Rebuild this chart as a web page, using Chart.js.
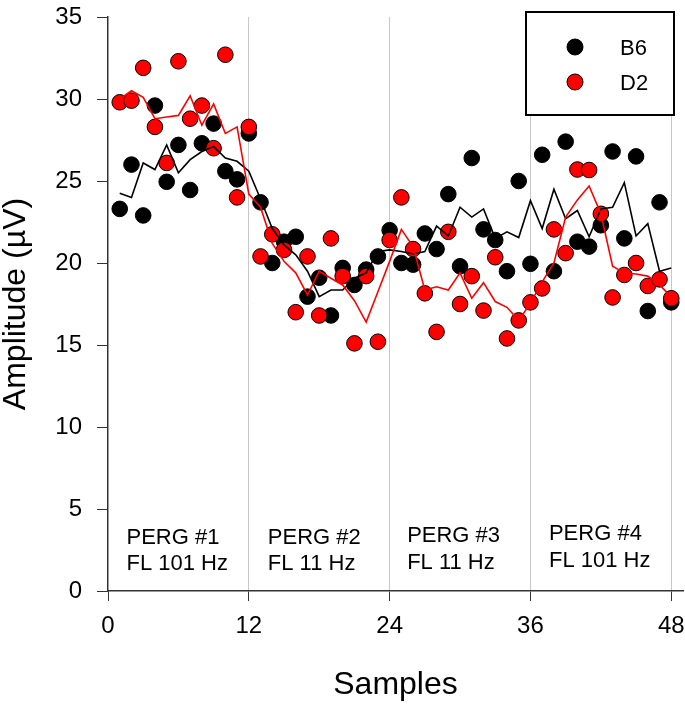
<!DOCTYPE html>
<html>
<head>
<meta charset="utf-8">
<script src="https://cdn.jsdelivr.net/npm/chart.js@4"></script>
<style>
  html, body { margin: 0; padding: 0; background: #ffffff; }
  canvas { display: block; }
</style>
</head>
<body>
<canvas id="c" width="685" height="705"></canvas>
<script>
// ---- data ----
const samples = [1,2,3,4,5,6,7,8,9,10,11,12,13,14,15,16,17,18,19,20,21,22,23,24,
                 25,26,27,28,29,30,31,32,33,34,35,36,37,38,39,40,41,42,43,44,45,46,47,48];

const b6Points = [23.3,26.0,22.9,29.6,24.95,27.2,24.45,27.3,28.5,25.6,25.1,27.9,
                  23.7,20.0,21.3,21.6,17.95,19.1,16.8,19.7,18.66,19.6,20.4,22.0,
                  20.0,19.9,21.8,20.85,24.2,19.8,26.4,22.05,21.4,19.5,25.0,19.95,
                  26.6,19.5,27.4,21.3,21.0,22.3,26.8,21.5,26.5,17.07,23.7,17.6];

const d2Points = [29.8,29.9,31.9,28.3,26.1,32.3,28.8,29.6,27.0,32.7,24.0,28.3,
                  20.4,21.75,20.8,17.0,20.4,16.8,21.5,19.2,15.1,19.2,15.2,21.4,
                  24.0,20.85,18.15,15.8,21.9,17.5,19.2,17.1,20.35,15.4,16.5,17.6,
                  18.45,22.05,20.6,25.7,25.67,23.0,17.9,19.27,20.0,18.6,19.0,17.85];

const b6Line = [24.25,24.0,26.1,25.7,27.2,25.5,26.3,26.8,27.1,26.4,26.2,25.6,
                23.9,22.1,21.1,20.5,19.5,17.95,18.35,18.35,19.07,19.4,20.7,20.8,
                20.7,20.55,20.7,22.25,21.65,23.4,22.8,23.3,21.5,21.9,21.55,23.8,
                22.1,24.5,22.7,23.2,21.6,23.3,23.4,24.9,21.65,22.4,19.5,19.7];

const d2Line = [30.0,30.5,30.1,28.8,28.9,29.0,30.2,28.4,29.7,27.9,28.3,24.2,
                23.4,21.2,20.1,19.4,18.05,19.5,19.07,18.66,17.7,16.4,18.25,20.1,
                22.05,21.0,18.35,18.55,18.35,19.4,17.85,18.8,17.65,17.3,16.5,17.55,
                18.85,20.0,22.8,23.85,24.7,23.0,19.8,19.4,19.33,19.2,18.66,17.95];

const xTicks = [0, 12, 24, 36, 48];
const yTicks = [0, 5, 10, 15, 20, 25, 30, 35];
const seriesNames = ['B6', 'D2'];
const segmentStarts = [0, 12, 24, 36];
const segmentLabels = [['PERG #1', 'FL 101 Hz'], ['PERG #2', 'FL 11 Hz'],
                       ['PERG #3', 'FL 11 Hz'], ['PERG #4', 'FL 101 Hz']];
const xTitle = 'Samples';
const yTitle = 'Amplitude (\u00B5V)';

// ---- build ----
const toXY = arr => samples.map((s, i) => ({ x: s, y: arr[i] }));
const FONT = '"Liberation Sans", Arial, Helvetica, sans-serif';

const overlay = {
  id: 'overlay',
  afterDraw(chart) {
    const ctx = chart.ctx;
    const ca = chart.chartArea;
    const xs = chart.scales.x;
    ctx.save();
    ctx.fillStyle = '#000';

    // segment annotations
    ctx.font = '22px ' + FONT;
    ctx.textAlign = 'left';
    ctx.textBaseline = 'alphabetic';
    const offs = [18.5, 19, 17.5, 18.5];
    const base1 = [544, 544, 542, 540];
    const base2 = [570, 570, 569, 567];
    segmentStarts.forEach((s, k) => {
      const x0 = xs.getPixelForValue(s) + offs[k];
      ctx.fillText(segmentLabels[k][0], x0, base1[k]);
      ctx.fillText(segmentLabels[k][1], x0, base2[k]);
    });

    // axis titles
    ctx.font = '32px ' + FONT;
    ctx.textAlign = 'center';
    ctx.textBaseline = 'alphabetic';
    ctx.fillText(xTitle, (ca.left + ca.right) / 2, 694);
    ctx.save();
    ctx.translate(25, (ca.top + ca.bottom) / 2);
    ctx.rotate(-Math.PI / 2);
    ctx.fillText(yTitle, 0, 0);
    ctx.restore();

    // legend box
    const bx = ca.right - 157, by = ca.top - 5, bw = 148, bh = 103;
    ctx.fillStyle = '#fff';
    ctx.fillRect(bx, by, bw, bh);
    ctx.lineWidth = 2;
    ctx.strokeStyle = '#000';
    ctx.strokeRect(bx, by, bw, bh);
    const colors = ['#000000', '#ff0000'];
    const rows = [by + 35, by + 70];
    ctx.font = '22px ' + FONT;
    ctx.textAlign = 'left';
    ctx.textBaseline = 'alphabetic';
    seriesNames.forEach((name, k) => {
      ctx.beginPath();
      ctx.arc(bx + 49, rows[k], 8, 0, Math.PI * 2);
      ctx.fillStyle = colors[k];
      ctx.fill();
      ctx.lineWidth = 1;
      ctx.strokeStyle = '#000';
      ctx.stroke();
      ctx.fillStyle = '#000';
      ctx.fillText(name, bx + 94, rows[k] + 8);
    });
    ctx.restore();
  }
};

new Chart(document.getElementById('c'), {
  type: 'line',
  data: {
    datasets: [
      { label: 'D2 line', data: toXY(d2Line), borderColor: '#ff0000', borderWidth: 1.6,
        pointRadius: 0, fill: false, tension: 0 },
      { label: 'B6 line', data: toXY(b6Line), borderColor: '#000000', borderWidth: 1.6,
        pointRadius: 0, fill: false, tension: 0 },
      { label: seriesNames[1], data: toXY(d2Points), showLine: false, pointRadius: 7.8,
        pointBackgroundColor: '#ff0000', pointBorderColor: '#000', pointBorderWidth: 1 },
      { label: seriesNames[0], data: toXY(b6Points), showLine: false, pointRadius: 7.8,
        pointBackgroundColor: '#000000', pointBorderColor: '#000', pointBorderWidth: 1 }
    ]
  },
  options: {
    responsive: false,
    devicePixelRatio: 1,
    animation: false,
    layout: { autoPadding: false, padding: { top: 17, right: 2, left: 0, bottom: 0 } },
    plugins: { legend: { display: false }, tooltip: { enabled: false } },
    scales: {
      x: {
        type: 'linear', min: 0, max: 49,
        afterBuildTicks: s => { s.ticks = xTicks.map(v => ({ value: v })); },
        afterFit: s => { s.height = 114; s.paddingLeft = 0; s.paddingRight = 0; },
        ticks: { font: { size: 24, family: FONT }, color: '#000', padding: 11, maxRotation: 0 },
        grid: {
          color: c => (c.tick && c.tick.value === 0) ? 'rgba(0,0,0,0)' : '#c8c8c8',
          lineWidth: 1, tickColor: '#333', tickLength: 10, drawOnChartArea: true
        },
        border: { display: true, color: '#333', width: 1.5 }
      },
      y: {
        type: 'linear', min: 0, max: 35,
        afterBuildTicks: s => { s.ticks = yTicks.map(v => ({ value: v })); },
        afterFit: s => { s.width = 108; s.paddingTop = 0; s.paddingBottom = 0; },
        ticks: { font: { size: 24, family: FONT }, color: '#000', padding: 15 },
        grid: { drawOnChartArea: false, tickColor: '#333', tickLength: 11 },
        border: { display: true, color: '#333', width: 1.5 }
      }
    }
  },
  plugins: [overlay]
});
</script>
</body>
</html>
